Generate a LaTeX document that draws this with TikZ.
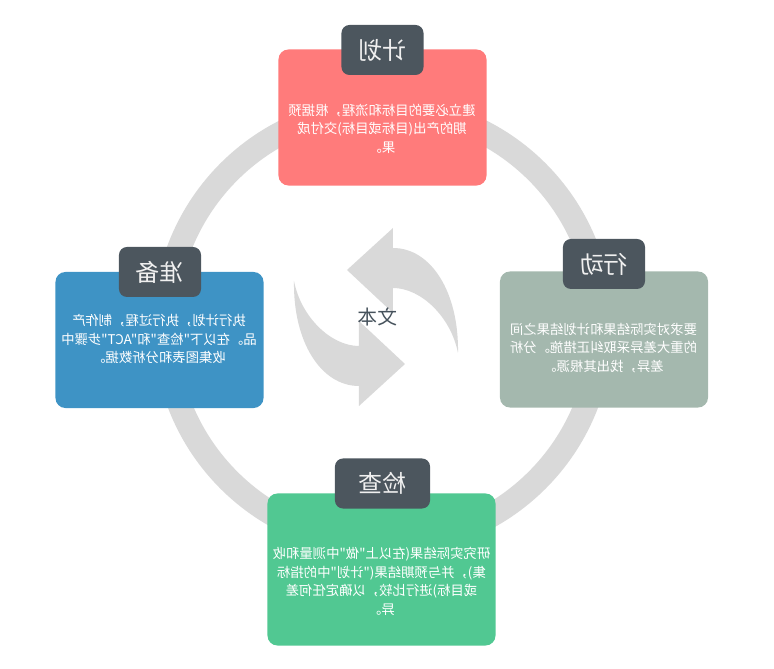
\documentclass[tikz,border=0pt]{standalone}
\usepackage{fontspec}
\setmainfont{Noto Sans CJK SC}[Ligatures=TeXOff]
\usepackage{xcolor}
\usepackage{tikz}
\definecolor{planred}{RGB}{255,123,123}
\definecolor{actgrey}{RGB}{164,184,174}
\definecolor{prepblue}{RGB}{62,147,197}
\definecolor{checkgreen}{RGB}{81,200,146}
\definecolor{tagdark}{RGB}{76,86,94}
\definecolor{tagtext}{RGB}{240,240,240}
\definecolor{ringgrey}{RGB}{217,217,217}
\definecolor{midtext}{RGB}{70,82,92}
\tikzset{
  card/.style={rectangle, rounded corners=2.5mm, minimum width=5.2cm,
               minimum height=3.4cm, inner sep=0pt},
  tag/.style={rectangle, rounded corners=2mm, fill=tagdark, text=tagtext,
              minimum width=2.05cm, minimum height=1.25cm, inner sep=0pt,
              font=\fontsize{17}{20}\selectfont},
  txt/.style={text=white, align=center, inner sep=0pt,
              font=\fontsize{9.5}{13.1}\selectfont},
  swirl/.style={fill=ringgrey}
}

\begin{document}
\begin{tikzpicture}[x=0.025cm, y=0.025cm, xscale=-1,
    every node/.append style={transform shape}]
  \useasboundingbox (0,0) rectangle (774,669);
  % grey ring behind the four stages
  \draw[ringgrey, line width=0.6cm] (391,343) circle (218);

  % plan
  \node[card, fill=planred] (plan) at (391.5,551.5) {};
  \node[tag] (planhd) at (391.5,619) {计划};
  \node[txt] (plantx) at (392,540.5)
    {建立必要的目标和流程，根据预\\期的产出(目标或目标)交付成\\果。};

  % act
  \node[card, fill=actgrey] (act) at (170,329.5) {};
  \node[tag] (acthd) at (170,405) {行动};
  \node[txt] (acttx) at (170.5,321)
    {要求对实际结果和计划结果之间\\的重大差异采取纠正措施。分析\\差异，找出其根源。};

  % prepare
  \node[card, fill=prepblue] (prep) at (614.5,329) {};
  \node[tag] (prephd) at (614,397) {准备};
  \node[txt] (preptx) at (615,330)
    {执行计划，执行过程，制作产\\品。在以下"检查"和"ACT"步骤中\\收集图表和分析数据。};

  % check
  \node[card, fill=checkgreen, minimum width=5.7cm, minimum height=3.8cm]
    (check) at (392.5,99.5) {};
  \node[tag, minimum width=2.375cm] (checkhd) at (391.5,185.5) {检查};
  \node[txt] (checktx) at (392.5,87.5)
    {研究实际结果(在以上"做"中测量和收\\集)，并与预期结果("计划"中的指标\\或目标)进行比较，以确定任何差\\异。};

  % two turning arrows in the middle
  \foreach \r in {0,180}
    \fill[swirl, shift={(398,352)}, rotate=\r] (29,47) -- (-17,89) -- (-17,69)
      .. controls (-55,69) and (-83,25) .. (-82,-36)
      .. controls (-75,0) and (-45,29) .. (-17,29) -- (-17,4) -- cycle;
  \node[text=midtext, font=\fontsize{14}{16}\selectfont] (mid) at (396,352) {文本};
\end{tikzpicture}
\end{document}
